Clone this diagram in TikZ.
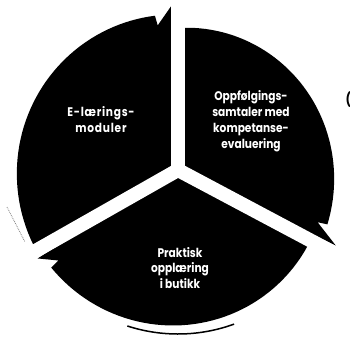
\documentclass[tikz,border=0pt]{standalone}
\usepackage{fontspec}
\setmainfont{Poppins}[FakeStretch=0.85]
\newfontfamily\widefont{Poppins}[FakeStretch=0.85,LetterSpace=6]
\begin{document}
\begin{tikzpicture}[x=1pt,y=1pt,
  sector/.style={fill=black},
  gapline/.style={draw=white,line width=14pt},
  lbl/.style={text=white,font=\bfseries\fontsize{12.5}{16}\selectfont,align=center,inner sep=0pt}]
\useasboundingbox (0,0) rectangle (350,346);
\fill[white] (0,0) rectangle (350,346);
\begin{scope}[shift={(178,176)}]
\coordinate (O) at (0,0);
% left sector (tail 209.6, head 90)
\fill[sector] (O) -- plot[domain=209.6:98.5,samples=50,variable=\t] (\t:{163-7*(209.6-\t)/111.1})
  -- (98:146) -- (92.4:164) -- cycle;
% right sector (tail 90, head -28)
\fill[sector] (O) -- plot[domain=90:-20,samples=50,variable=\t] (\t:{142+17*(90-\t)/110})
  -- (-20.5:149) -- (-25.6:175) -- cycle;
% bottom sector (tail 332, head 209.6)
\fill[sector] (O) -- plot[domain=332:217.6,samples=50,variable=\t] (\t:{150+10*(332-\t)/114.4})
  -- (217.1:150) -- (212.2:166) -- cycle;
% gaps
\draw[gapline] (O) -- (90:195);
\draw[gapline] (O) -- (209.6:195);
\draw[gapline] (O) -- (332:195);
% faint outer traces
\draw[line width=1.5pt] (252:164) arc (252:290:164);
\draw[densely dotted,gray,line width=0.8pt] (-171,-37) -- (-153,-72);
\end{scope}
\node[lbl,font=\widefont\bfseries\fontsize{12.5}{16}\selectfont] (t1) at (101,226) {E-lærings-\\moduler};
\node[lbl] (t2) at (251,225) {Oppfølgings-\\samtaler med\\kompetanse-\\evaluering};
\node[lbl,font=\bfseries\fontsize{12.5}{15.5}\selectfont] (t3) at (180,78) {Praktisk\\opplæring\\i butikk};
\node[font=\bfseries\fontsize{14}{14}\selectfont,anchor=west,inner sep=0pt] (paren) at (345.5,246) {(};
\end{tikzpicture}
\end{document}
